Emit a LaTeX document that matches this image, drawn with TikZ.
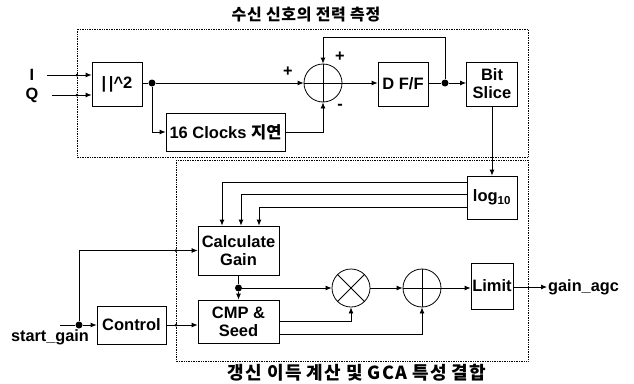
\documentclass[tikz,border=0pt]{standalone}
\usepackage{fontspec}
\setmainfont{Liberation Sans}
\newfontfamily\kr{Noto Sans CJK KR}
\usetikzlibrary{arrows.meta}

\begin{document}
\begin{tikzpicture}[x=1pt, y=-1pt,
  blk/.style={draw, line width=0.8pt, align=center, inner sep=1pt, font=\fontsize{16.5}{18}\selectfont\bfseries},
  sumc/.style={draw, line width=0.8pt, circle, minimum size=38pt, inner sep=0pt},
  region/.style={draw, densely dotted, line width=0.7pt},
  lbl/.style={font=\fontsize{16.3}{18}\selectfont\bfseries, inner sep=1pt},
  ttl/.style={inner sep=1pt},
  dot/.style={circle, fill, inner sep=0pt, minimum size=7pt},
  tick/.style={circle, fill, inner sep=0pt, minimum size=3pt},
  sig/.style={-{Latex[length=6pt,width=5pt]}, line width=0.8pt},
  wire/.style={line width=0.8pt}
]
  \useasboundingbox (0,0) rectangle (634,383);

  % Regions and titles
  \draw[region] (77,29) rectangle (528,157);
  \draw[region] (176,160) rectangle (528,361);
  \node[ttl, font=\kr\fontsize{16}{18}\selectfont\bfseries\addfontfeatures{LetterSpace=4}] (t1) at (306,15) {수신 신호의 전력 측정};
  \node[ttl, font=\kr\fontsize{18}{20}\selectfont\bfseries\addfontfeatures{LetterSpace=6}] (t2) at (357,373) {갱신 이득 계산 및 GCA 특성 결합};

  % Power measurement
  \node[lbl] (iin) at (32,75) {I};
  \node[lbl] (qin) at (32,95) {Q};
  \node[blk, minimum width=50pt, minimum height=44pt] (sq) at (117,84) {|\,|\textasciicircum2};
  \node[blk, minimum width=119pt, minimum height=38pt] (dly) at (225.5,132) {16 Clocks {\kr 지연}};
  \node[sumc] (sum) at (323,83) {};
  \draw[wire] (sum.north) -- (sum.south) (sum.west) -- (sum.east);
  \node[blk, minimum width=50pt, minimum height=44pt] (dff) at (403,84) {D F/F};
  \node[blk, minimum width=51pt, minimum height=44pt] (bits) at (492,84) {Bit\\Slice};
  \node[dot] (j1) at (152,83) {};
  \node[dot] (j2) at (445,83) {};
  \node[lbl] (sp1) at (288,72) {+};
  \node[lbl] (sp2) at (340,57) {+};
  \node[lbl] (sm) at (340,107) {-};

  \draw[sig] ([xshift=12pt]iin.east) -- (sq.west |- iin);
  \draw[sig] ([xshift=12pt]qin.east) -- (sq.west |- qin);
  \draw[wire] (sq.east |- j1) -- (j1);
  \draw[sig] (j1) -- (sum.west);
  \draw[sig] (j1) |- (dly.west);
  \draw[sig] (dly.east) -| (sum.south);
  \draw[sig] (sum.east) -- (dff.west |- sum);
  \draw[wire] (dff.east |- j2) -- (j2);
  \draw[sig] (j2) -- (bits.west |- j2);
  \draw[sig] (j2) -- ++(0,-46) -| (sum.north);

  % Gain calculation
  \node[blk, minimum width=50pt, minimum height=43pt] (logt) at (492,197.5) {log\textsubscript{10}};
  \node[blk, minimum width=81pt, minimum height=49pt] (calc) at (238.5,250.5) {Calculate\\Gain};
  \node[blk, minimum width=81pt, minimum height=43pt] (cmp) at (238.5,321.5) {CMP \&\\Seed};
  \node[blk, minimum width=69pt, minimum height=38pt] (ctrl) at (131.5,325) {Control};
  \node[sumc] (mul) at (351,288) {};
  \draw[wire] (mul.north west) -- (mul.south east) (mul.north east) -- (mul.south west);
  \node[sumc] (add) at (422,288) {};
  \draw[wire] (add.north) -- (add.south) (add.west) -- (add.east);
  \node[blk, minimum width=42pt, minimum height=46pt] (lim) at (492,286) {Limit};
  \node[lbl, anchor=west] (gout) at (547,287) {gain\_agc};
  \node[lbl] (sg) at (50,337) {start\_gain};
  \coordinate (sgin) at (60,325);
  \node[dot] (j3) at (calc.south |- mul) {};
  \node[dot] (j4) at (79,325) {};

  \draw[sig] (bits.south) -- (logt.north);
  \draw[sig] ([yshift=15.5pt]logt.west) -| ([xshift=-16.5pt]calc.north);
  \draw[sig] ([yshift=3.5pt]logt.west) -| ([xshift=2.5pt]calc.north);
  \draw[sig] ([yshift=-9.5pt]logt.west) -| ([xshift=20.5pt]calc.north);
  \draw[wire] (calc.south) -- (j3);
  \draw[sig] (j3) -- (cmp.north);
  \draw[sig] (j3) -- (mul.west);
  \draw[sig] (mul.east) -- (add.west);
  \draw[sig] (add.east) -- (lim.west |- add);
  \draw[sig] (lim.east |- gout) -- (gout.west);
  \draw[sig] (cmp.east) -| (mul.south);
  \draw[sig] ([yshift=-12.5pt]cmp.east) -| (add.south);
  \draw[wire] (sgin) -- (j4);
  \draw[sig] (j4) -- (ctrl.west);
  \draw[sig] (j4) |- (calc.west);
  \draw[sig] (ctrl.east) -- (cmp.west |- ctrl);

  % Border crossings
  \foreach \p in {(77,75),(77,95),(176,250.5),(176,325)} {
    \node[tick] at \p {};
  }
\end{tikzpicture}
\end{document}
